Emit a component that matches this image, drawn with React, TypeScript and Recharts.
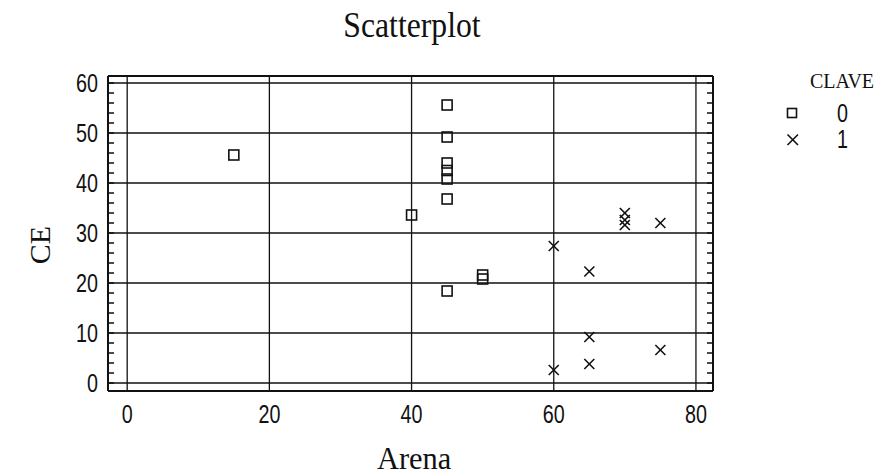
import React from 'react';
import { ScatterChart, Scatter, XAxis, YAxis, CartesianGrid } from 'recharts';

const clave0Arena = [15, 40, 45, 45, 45, 45, 45, 45, 45, 50, 50];
const clave0CE = [45.6, 33.6, 55.6, 49.2, 44, 42.5, 40.8, 36.8, 18.4, 21.6, 20.8];
const clave1Arena = [60, 60, 65, 65, 65, 70, 70, 70, 75, 75];
const clave1CE = [27.4, 2.6, 22.3, 9.2, 3.8, 34, 32.6, 31.6, 32, 6.6];

const xTicks = [0, 20, 40, 60, 80];
const yTicks = [0, 10, 20, 30, 40, 50, 60];
const yMinorTicks = [0, 2, 4, 6, 8, 10, 12, 14, 16, 18, 20, 22, 24, 26, 28, 30, 32, 34, 36, 38, 40, 42, 44, 46, 48, 50, 52, 54, 56, 58, 60];
const xDomain = [-2.7, 82.4];
const yDomain = [-1.6, 61.4];
const legendTitle = 'CLAVE';
const legendLabels = ['0', '1'];

const data0 = clave0Arena.map((x, i) => ({ x, y: clave0CE[i] }));
const data1 = clave1Arena.map((x, i) => ({ x, y: clave1CE[i] }));

const INK = '#111';
const SANS = '"Liberation Sans", Arimo, sans-serif';
const SERIF = '"Liberation Serif", serif';
const NARROW = 0.79;

const XTick = (p: any) => (
  <g transform={`translate(${p.x},${p.y}) scale(${NARROW},1)`}>
    <text x={0} y={0} dy="0.71em" textAnchor="middle" fontFamily={SANS} fontSize={25} fill={INK}>
      {p.payload.value}
    </text>
  </g>
);
const YTick = (p: any) => (
  <g transform={`translate(${p.x},${p.y}) scale(${NARROW},1)`}>
    <text x={0} y={0} dy="0.36em" textAnchor="end" fontFamily={SANS} fontSize={25} fill={INK}>
      {p.payload.value}
    </text>
  </g>
);
const blank = () => '';
const Hidden = () => <g />;

const Square = (p: any) => (
  <rect x={p.cx - 5} y={p.cy - 5} width={10} height={10} fill="none" stroke={INK} strokeWidth={1.6} />
);
const Cross = (p: any) => (
  <g stroke={INK} strokeWidth={1.6}>
    <line x1={p.cx - 5} y1={p.cy - 5} x2={p.cx + 5} y2={p.cy + 5} />
    <line x1={p.cx - 5} y1={p.cy + 5} x2={p.cx + 5} y2={p.cy - 5} />
  </g>
);

export default function App() {
  return (
    <div style={{ position: 'absolute', left: 0, top: 0, width: 886, height: 475, background: '#fff' }}>
      <ScatterChart width={886} height={475} margin={{ top: 76, right: 173, bottom: 44, left: 68 }}>
        <CartesianGrid stroke={INK} strokeWidth={1.3} />
        <XAxis type="number" dataKey="x" domain={xDomain} allowDataOverflow ticks={xTicks}
          tickLine={false} tickSize={0} tickMargin={14} height={40}
          axisLine={{ stroke: INK, strokeWidth: 2 }} tick={XTick} />
        <XAxis xAxisId="top" orientation="top" type="number" dataKey="x" domain={xDomain} allowDataOverflow
          ticks={xTicks} tickFormatter={blank} tickLine={false} mirror height={2}
          axisLine={{ stroke: INK, strokeWidth: 2 }} />
        <YAxis type="number" dataKey="y" domain={yDomain} allowDataOverflow ticks={yTicks}
          tickLine={false} tickSize={0} tickMargin={10} width={40}
          axisLine={false} tick={YTick} />
        <YAxis yAxisId="minorL" orientation="left" mirror type="number" dataKey="y" domain={yDomain} allowDataOverflow
          ticks={yMinorTicks} interval={0} tickFormatter={blank} tickSize={6} width={8}
          tickLine={{ stroke: INK, strokeWidth: 1.5 }} axisLine={{ stroke: INK, strokeWidth: 2 }} />
        <YAxis yAxisId="minorR" orientation="right" mirror type="number" dataKey="y" domain={yDomain} allowDataOverflow
          ticks={yMinorTicks} interval={0} tickFormatter={blank} tickSize={6} width={8}
          tickLine={{ stroke: INK, strokeWidth: 1.5 }} axisLine={{ stroke: INK, strokeWidth: 2 }} />
        <Scatter name={legendLabels[0]} data={data0} shape={Square} isAnimationActive={false} />
        <Scatter name={legendLabels[1]} data={data1} shape={Cross} isAnimationActive={false} />
        <Scatter yAxisId="minorL" xAxisId="top" data={data0} shape={Hidden} isAnimationActive={false} legendType="none" />
        <Scatter yAxisId="minorR" data={data1} shape={Hidden} isAnimationActive={false} legendType="none" />
      </ScatterChart>

      <div style={{ position: 'absolute', left: 0, width: 824, top: 4, textAlign: 'center',
        fontFamily: SERIF, fontSize: 36, color: INK, lineHeight: 'normal' }}>
        <span style={{ display: 'inline-block', transform: 'scaleX(0.88)' }}>Scatterplot</span>
      </div>
      <div style={{ position: 'absolute', left: 0, width: 828, top: 440, textAlign: 'center',
        fontFamily: SERIF, fontSize: 32, color: INK, lineHeight: 'normal' }}>
        <span style={{ display: 'inline-block', transform: 'scaleX(0.95)' }}>Arena</span>
      </div>
      <div style={{ position: 'absolute', left: 40, top: 245, transform: 'translate(-50%, -50%) rotate(-90deg)',
        fontFamily: SERIF, fontSize: 30, color: INK, whiteSpace: 'nowrap' }}>CE</div>

      <svg style={{ position: 'absolute', left: 760, top: 60 }} width={126} height={100}>
        <text x={50} y={28} fontFamily={SERIF} fontSize={20} fill={INK}>{legendTitle}</text>
        <rect x={27.5} y={48.5} width={9} height={9} fill="none" stroke={INK} strokeWidth={1.6} />
        <line x1={27.5} y1={74.5} x2={38} y2={85} stroke={INK} strokeWidth={1.6} />
        <line x1={27.5} y1={85} x2={38} y2={74.5} stroke={INK} strokeWidth={1.6} />
        <g transform={`translate(77,62) scale(${NARROW},1)`}>
          <text x={0} y={0} fontFamily={SANS} fontSize={25} fill={INK}>{legendLabels[0]}</text>
        </g>
        <g transform={`translate(77,88) scale(${NARROW},1)`}>
          <text x={0} y={0} fontFamily={SANS} fontSize={25} fill={INK}>{legendLabels[1]}</text>
        </g>
      </svg>
    </div>
  );
}
